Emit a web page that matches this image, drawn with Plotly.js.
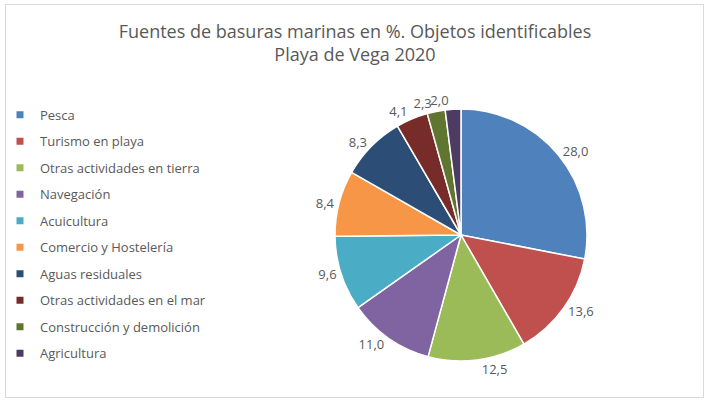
<!DOCTYPE html>
<html><head><meta charset="utf-8">
<script src="https://cdn.plot.ly/plotly-3.0.1.min.js"></script>
<style>html,body{margin:0;padding:0;background:#fff;}
#frame{position:absolute;left:5px;top:4px;width:697px;height:392px;border:1px solid #d9d9d9;}
#chart{position:absolute;left:0;top:0;width:710px;height:401px;}</style>
</head><body><div id="frame"></div><div id="chart"></div>
<script>
const categories = ["Pesca","Turismo en playa","Otras actividades en tierra","Navegación","Acuicultura","Comercio y Hostelería","Aguas residuales","Otras actividades en el mar","Construcción y demolición","Agricultura"];
const values = [28.0,13.6,12.5,11.0,9.6,8.4,8.3,4.1,2.3,2.0];
const colors = ["#4F81BD","#C0504D","#9BBB59","#8064A2","#4BACC6","#F79646","#2C4D75","#772C2A","#5F7530","#4D3B62"];
const W=710,H=401,cx=461,cy=235,r=126;
const font='Open Sans, sans-serif', grey='#595959';
const domain={x:[(cx-r)/W,(cx+r)/W], y:[1-(cy+r)/H,1-(cy-r)/H]};
// labels are split over overlaid pies so the small neighbouring labels are not pushed apart
const labelLayers=[[0,1,2,3,4,5,6,7],[8],[9]];
const traces=labelLayers.map((layer,k)=>({
  type:'pie', labels:categories, values:values, sort:false, direction:'clockwise', rotation:0,
  marker:{colors:k===0?colors:categories.map(()=> 'rgba(0,0,0,0)'), line:{color:k===0?'#ffffff':'rgba(0,0,0,0)', width:k===0?1.5:0}},
  showlegend:false,
  textposition:categories.map((c,i)=>layer.includes(i)?'outside':'none'),
  texttemplate:'%{value:.1f}', hoverinfo:'label+value',
  outsidetextfont:{family:font, size:13, color:grey},
  domain:domain
}));
// legend entries (one per category, in its own group so the gap can match the reference)
categories.forEach((c,i)=>traces.push({type:'scatter', mode:'markers', x:[null], y:[null], name:c,
  legendgroup:'g'+i, showlegend:true, marker:{symbol:'square', size:7, color:colors[i]}}));
Plotly.newPlot('chart',traces,{
  width:W,height:H,margin:{l:0,r:0,t:0,b:0},
  paper_bgcolor:'rgba(0,0,0,0)', plot_bgcolor:'rgba(0,0,0,0)', separators:',.',
  xaxis:{visible:false}, yaxis:{visible:false},
  title:{text:'Fuentes de basuras marinas en %. Objetos identificables<br>Playa de Vega 2020', x:0.5, xanchor:'center', y:0.905, yanchor:'top', font:{family:font, size:18, color:grey}},
  showlegend:true,
  legend:{x:0.0, xanchor:'left', y:0.751, yanchor:'top', font:{family:font, size:13, color:grey}, itemwidth:30, tracegroupgap:6.6, bgcolor:'rgba(0,0,0,0)'}
},{displayModeBar:false, staticPlot:true});
</script></body></html>
